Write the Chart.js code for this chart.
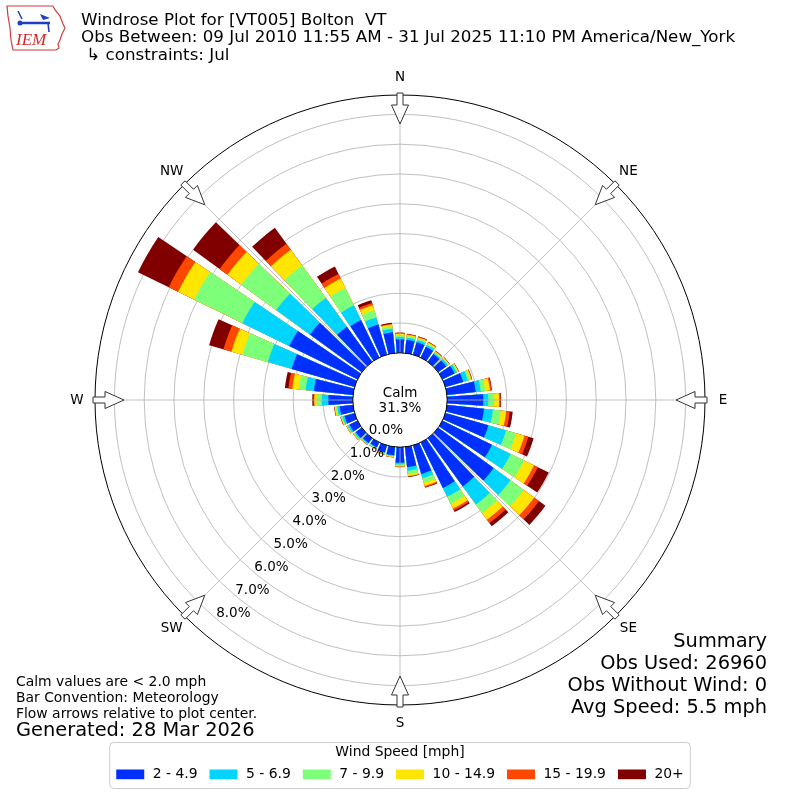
<!DOCTYPE html>
<html>
<head>
<meta charset="utf-8">
<title>Windrose Plot for [VT005] Bolton VT</title>
<script src="https://cdn.jsdelivr.net/npm/chart.js@4.4.1/dist/chart.umd.min.js"></script>
<style>
  html, body { margin: 0; padding: 0; background: #fff; }
  #wrap { width: 800px; height: 800px; }
</style>
</head>
<body>
<div id="wrap"><canvas id="rose" width="800" height="800"></canvas></div>
<script>
// wind direction bins, degrees (meteorological: direction the wind blows from)
const dirs = [0, 10, 20, 30, 40, 50, 60, 70, 80, 90, 100, 110, 120, 130, 140, 150, 160, 170,
              180, 190, 200, 210, 220, 230, 240, 250, 260, 270, 280, 290, 300, 310, 320, 330, 340, 350];

const speedBins = ['2 - 4.9', '5 - 6.9', '7 - 9.9', '10 - 14.9', '15 - 19.9', '20+'];
const binColors = ['#0030ff', '#00d4ff', '#7dff7a', '#ffe600', '#ff4700', '#800000'];

// percent of all observations, per direction, per speed bin
const spd2_5   = [0.45, 0.44, 0.43, 0.40, 0.32, 0.33, 0.45, 0.62, 0.97, 1.21, 1.25, 1.50, 1.85, 2.30, 2.00, 1.70, 1.00, 0.68,
                  0.52, 0.28, 0.25, 0.18, 0.20, 0.25, 0.30, 0.35, 0.45, 0.82, 1.32, 2.20, 2.55, 2.15, 1.45, 1.40, 1.05, 0.70];
const spd5_7   = [0.08, 0.08, 0.08, 0.07, 0.05, 0.07, 0.08, 0.16, 0.17, 0.17, 0.30, 0.62, 0.70, 0.70, 0.75, 0.33, 0.15, 0.12,
                  0.06, 0.03, 0.03, 0.03, 0.04, 0.05, 0.06, 0.07, 0.08, 0.22, 0.28, 0.83, 1.75, 1.40, 1.20, 0.55, 0.25, 0.12];
const spd7_10  = [0.06, 0.05, 0.05, 0.05, 0.04, 0.04, 0.04, 0.08, 0.15, 0.20, 0.27, 0.35, 0.50, 0.55, 0.35, 0.26, 0.15, 0.12,
                  0.04, 0.02, 0.02, 0.02, 0.02, 0.03, 0.03, 0.04, 0.05, 0.17, 0.23, 0.89, 1.80, 1.45, 1.35, 0.65, 0.25, 0.08];
const spd10_15 = [0.05, 0.04, 0.04, 0.04, 0.02, 0.02, 0.03, 0.05, 0.16, 0.16, 0.18, 0.29, 0.37, 0.43, 0.28, 0.18, 0.12, 0.06,
                  0.03, 0.02, 0.02, 0.01, 0.01, 0.02, 0.02, 0.02, 0.04, 0.08, 0.22, 0.38, 0.60, 0.57, 0.65, 0.35, 0.17, 0.06];
const spd15_20 = [0.03, 0.03, 0.03, 0.02, 0.02, 0.01, 0.01, 0.02, 0.05, 0.05, 0.12, 0.14, 0.14, 0.20, 0.14, 0.07, 0.04, 0.02,
                  0.01, 0.01, 0.01, 0.01, 0.01, 0.01, 0.01, 0.01, 0.01, 0.03, 0.13, 0.28, 0.35, 0.33, 0.25, 0.17, 0.08, 0.03];
const spd20p   = [0.01, 0.01, 0.01, 0.01, 0.01, 0.01, 0.01, 0.01, 0.02, 0.02, 0.10, 0.18, 0.41, 0.27, 0.13, 0.06, 0.02, 0.01,
                  0.01, 0.00, 0.00, 0.00, 0.00, 0.00, 0.00, 0.01, 0.01, 0.04, 0.12, 0.50, 1.15, 1.10, 0.66, 0.28, 0.10, 0.03];

const calmPct = 31.3;
const rTicks = [0, 1, 2, 3, 4, 5, 6, 7, 8];
const compass = ['N', 'NE', 'E', 'SE', 'S', 'SW', 'W', 'NW'];

const titleLines = [
  'Windrose Plot for [VT005] Bolton  VT',
  'Obs Between: 09 Jul 2010 11:55 AM - 31 Jul 2025 11:10 PM America/New_York',
  ' \u21b3 constraints: Jul'
];
const notes = ['Calm values are < 2.0 mph', 'Bar Convention: Meteorology', 'Flow arrows relative to plot center.'];
const generated = 'Generated: 28 Mar 2026';
const summary = ['Summary', 'Obs Used: 26960', 'Obs Without Wind: 0', 'Avg Speed: 5.5 mph'];
const legendTitle = 'Wind Speed [mph]';

// stack the bins: each dataset holds the running total, drawn over the next one
const bins = [spd2_5, spd5_7, spd7_10, spd10_15, spd15_20, spd20p];
const cum = [];
bins.forEach((b, k) => cum.push(b.map((v, i) => (k ? cum[k - 1][i] : 0) + v)));

// each direction is a bar slot followed by an empty gap slot
const slotLabels = [];
dirs.forEach(d => { slotLabels.push(d + '\u00b0'); slotLabels.push(''); });

const datasets = speedBins.map((name, k) => ({
  label: name,
  data: cum[k].flatMap(v => [v, 0]),
  backgroundColor: ctx => (ctx.dataIndex % 2 ? 'rgba(0,0,0,0)' : binColors[k]),
  borderWidth: 0,
  angle: ctx => (ctx.dataIndex % 2 ? 2 : 8)
}));

const FONT = '"DejaVu Sans", sans-serif';

function drawArrow(ctx, cx, cy, a, R) {
  // hollow arrow pointing at the centre, straddling the outer ring
  const pts = [[R + 2, -3], [R - 10, -3], [R - 10, -8.5], [R - 29, 0], [R - 10, 8.5], [R - 10, 3], [R + 2, 3]];
  const c = Math.cos(a), s = Math.sin(a);
  ctx.beginPath();
  pts.forEach(([r, w], i) => {
    const x = cx + r * c - w * s, y = cy + r * s + w * c;
    i ? ctx.lineTo(x, y) : ctx.moveTo(x, y);
  });
  ctx.closePath();
  ctx.fillStyle = '#fff';
  ctx.fill();
  ctx.strokeStyle = '#333';
  ctx.lineWidth = 1;
  ctx.stroke();
}

function drawLogo(ctx) {
  ctx.save();
  ctx.strokeStyle = '#d23c3c';
  ctx.lineWidth = 1.2;
  const shape = [[7, 6], [53, 6], [55, 10], [60, 16], [63, 24], [65, 28], [62, 34], [60, 40], [58, 44], [59, 48],
                 [56, 50], [13, 50], [11, 40], [10, 28], [8, 16]];
  ctx.beginPath();
  shape.forEach(([x, y], i) => (i ? ctx.lineTo(x, y) : ctx.moveTo(x, y)));
  ctx.closePath();
  ctx.stroke();
  ctx.strokeStyle = '#1f3fbf';
  ctx.fillStyle = '#1f3fbf';
  ctx.lineWidth = 2.5;
  ctx.beginPath(); ctx.moveTo(22, 23); ctx.lineTo(50, 23); ctx.stroke();
  ctx.beginPath(); ctx.arc(20, 23, 2.5, 0, Math.PI * 2); ctx.fill();
  ctx.lineWidth = 1.6;
  ctx.beginPath(); ctx.moveTo(18, 11); ctx.lineTo(22, 19); ctx.stroke();
  ctx.beginPath(); ctx.moveTo(48, 23); ctx.lineTo(49, 32); ctx.stroke();
  ctx.beginPath(); ctx.moveTo(40, 14); ctx.lineTo(50, 18); ctx.lineTo(43, 20); ctx.closePath(); ctx.fill();
  ctx.fillStyle = '#d42a2a';
  ctx.font = 'italic 17px "Liberation Serif", serif';
  ctx.textAlign = 'left';
  ctx.textBaseline = 'alphabetic';
  ctx.fillText('IEM', 16, 45);
  ctx.restore();
}

const rosePlugin = {
  id: 'rose',
  afterDatasetsDraw(chart) {
    const s = chart.scales.r, ctx = chart.ctx;
    ctx.save();
    ctx.strokeStyle = '#b0b0b0';
    ctx.lineWidth = 0.8;
    compass.forEach((c, i) => {
      const a = (i * 45 - 90) * Math.PI / 180;
      ctx.beginPath();
      ctx.moveTo(s.xCenter, s.yCenter);
      ctx.lineTo(s.xCenter + s.drawingArea * Math.cos(a), s.yCenter + s.drawingArea * Math.sin(a));
      ctx.stroke();
    });
    ctx.restore();
  },
  afterDraw(chart) {
    const s = chart.scales.r, ctx = chart.ctx;
    const cx = s.xCenter, cy = s.yCenter, R = s.drawingArea;
    ctx.save();

    // outer frame
    ctx.strokeStyle = '#000';
    ctx.lineWidth = 1;
    ctx.beginPath(); ctx.arc(cx, cy, R, 0, Math.PI * 2); ctx.stroke();

    // calm circle
    const r0 = s.getDistanceFromCenterForValue(0);
    ctx.beginPath(); ctx.arc(cx, cy, r0, 0, Math.PI * 2);
    ctx.fillStyle = '#fff'; ctx.fill(); ctx.stroke();
    ctx.fillStyle = '#000';
    ctx.font = '13.5px ' + FONT;
    ctx.textAlign = 'center';
    ctx.textBaseline = 'alphabetic';
    ctx.fillText('Calm', cx, cy - 3.5);
    ctx.fillText(calmPct.toFixed(1) + '%', cx, cy + 11.5);

    // radial tick labels
    const la = 129.8 * Math.PI / 180;
    ctx.textAlign = 'left';
    ctx.textBaseline = 'middle';
    rTicks.forEach(v => {
      const r = s.getDistanceFromCenterForValue(v);
      ctx.fillText(v.toFixed(1) + '%', cx + r * Math.cos(la) - 1, cy + r * Math.sin(la) - 6);
    });

    // compass arrows + labels
    ctx.font = '13.5px ' + FONT;
    ctx.textAlign = 'center';
    compass.forEach((c, i) => {
      const a = (i * 45 - 90) * Math.PI / 180;
      drawArrow(ctx, cx, cy, a, R);
      ctx.fillStyle = '#000';
      ctx.fillText(c, cx + (R + 18) * Math.cos(a), cy + (R + 18) * Math.sin(a));
    });

    // header
    drawLogo(ctx);
    ctx.fillStyle = '#000';
    ctx.textAlign = 'left';
    ctx.textBaseline = 'alphabetic';
    ctx.font = '16.7px ' + FONT;
    titleLines.forEach((t, i) => ctx.fillText(t, 81, 24.5 + i * 17.6));

    // footnotes
    ctx.font = '13.9px ' + FONT;
    notes.forEach((t, i) => ctx.fillText(t, 16, 685.5 + i * 16));
    ctx.font = '19.4px ' + FONT;
    ctx.fillText(generated, 16, 735.5);

    // summary block
    ctx.textAlign = 'right';
    summary.forEach((t, i) => ctx.fillText(t, 767, 646.5 + i * 22));

    // legend
    ctx.font = '13.9px ' + FONT;
    const widths = speedBins.map(t => ctx.measureText(t).width);
    const total = widths.reduce((a, w) => a + 28 + 8.5 + w, 0) + 12 * (speedBins.length - 1);
    let x = chart.width / 2 - total / 2;
    ctx.beginPath();
    ctx.roundRect(x - 6.5, 742.5, total + 13, 46, 4);
    ctx.fillStyle = 'rgba(255,255,255,0.8)';
    ctx.fill();
    ctx.strokeStyle = '#cccccc';
    ctx.stroke();
    ctx.fillStyle = '#000';
    ctx.textAlign = 'center';
    ctx.textBaseline = 'middle';
    ctx.fillText(legendTitle, chart.width / 2, 752.5);
    ctx.textAlign = 'left';
    speedBins.forEach((t, k) => {
      ctx.fillStyle = binColors[k];
      ctx.fillRect(x, 769.5, 28, 9.7);
      ctx.fillStyle = '#000';
      ctx.fillText(t, x + 36.5, 774.5);
      x += 36.5 + widths[k] + 12;
    });
    ctx.restore();
  }
};

Chart.defaults.font.family = FONT;

new Chart(document.getElementById('rose'), {
  type: 'polarArea',
  data: { labels: slotLabels, datasets: datasets },
  options: {
    responsive: false,
    animation: false,
    layout: { padding: 95 },
    plugins: { legend: { display: false }, tooltip: { enabled: false } },
    scales: {
      r: {
        min: -1.584,
        max: 8.651,
        startAngle: -4,
        z: 1,
        ticks: { display: false },
        afterBuildTicks: axis => { axis.ticks = rTicks.map(v => ({ value: v })); },
        grid: {
          circular: true,
          color: ctx => (ctx.tick && ctx.tick.value === 0 ? 'rgba(0,0,0,0)' : '#b0b0b0'),
          lineWidth: 0.8
        },
        angleLines: { display: false },
        pointLabels: { display: false }
      }
    }
  },
  plugins: [rosePlugin]
});
</script>
</body>
</html>
